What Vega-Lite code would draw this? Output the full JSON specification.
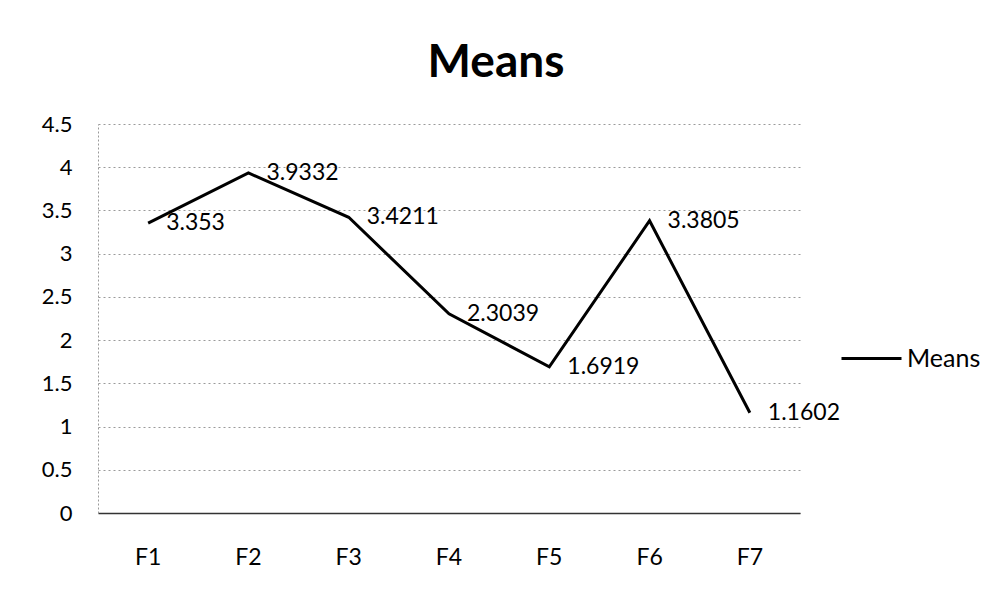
{
  "$schema": "https://vega.github.io/schema/vega-lite/v6.json",
  "width": 702,
  "height": 389,
  "autosize": "none",
  "padding": {"left": 98, "top": 124, "right": 199, "bottom": 88},
  "background": "white",
  "title": {
    "text": "Means",
    "font": "Lato",
    "fontSize": 46,
    "fontWeight": "bold",
    "color": "#000000",
    "anchor": "middle",
    "dx": 47,
    "offset": 26
  },
  "data": {
    "values": [
      {"factor": "F1", "mean": 3.353, "series": "Means"},
      {"factor": "F2", "mean": 3.9332, "series": "Means"},
      {"factor": "F3", "mean": 3.4211, "series": "Means"},
      {"factor": "F4", "mean": 2.3039, "series": "Means"},
      {"factor": "F5", "mean": 1.6919, "series": "Means"},
      {"factor": "F6", "mean": 3.3805, "series": "Means"},
      {"factor": "F7", "mean": 1.1602, "series": "Means"}
    ]
  },
  "encoding": {
    "x": {
      "field": "factor",
      "type": "nominal",
      "sort": null,
      "scale": {"type": "band", "paddingInner": 0, "paddingOuter": 0},
      "axis": {
        "title": null,
        "labelAngle": 0,
        "labelFont": "Lato",
        "labelFontSize": 23,
        "labelColor": "#000000",
        "labelPadding": 33,
        "ticks": false,
        "grid": false,
        "domainColor": "#333333",
        "domainWidth": 1.5
      }
    },
    "y": {
      "field": "mean",
      "type": "quantitative",
      "scale": {"domain": [0, 4.5], "nice": false},
      "axis": {
        "title": null,
        "values": [0, 0.5, 1, 1.5, 2, 2.5, 3, 3.5, 4, 4.5],
        "labelFont": "Lato",
        "labelFontSize": 22,
        "labelColor": "#000000",
        "labelPadding": 26,
        "ticks": false,
        "grid": true,
        "gridColor": "#9a9a9a",
        "gridDash": [2, 3],
        "gridWidth": 1,
        "domainColor": "#9a9a9a",
        "domainDash": [2, 2],
        "labelExpr": "datum.value"
      }
    }
  },
  "layer": [
    {
      "mark": {"type": "line", "strokeWidth": 3, "color": "#000000"},
      "encoding": {
        "color": {
          "field": "series",
          "type": "nominal",
          "scale": {"range": ["#000000"]},
          "legend": {
            "title": null,
            "orient": "none",
            "legendX": 742,
            "legendY": 203,
            "symbolType": "stroke",
            "symbolSize": 3600,
            "symbolStrokeWidth": 3,
            "labelFont": "Lato",
            "labelFontSize": 25,
            "labelColor": "#000000",
            "labelOffset": 4
          }
        }
      }
    },
    {
      "mark": {
        "type": "text",
        "align": "left",
        "baseline": "middle",
        "dx": 18,
        "font": "Lato",
        "fontSize": 23,
        "color": "#000000"
      },
      "encoding": {
        "text": {"field": "mean", "type": "quantitative"}
      }
    }
  ],
  "config": {"view": {"stroke": null}}
}
